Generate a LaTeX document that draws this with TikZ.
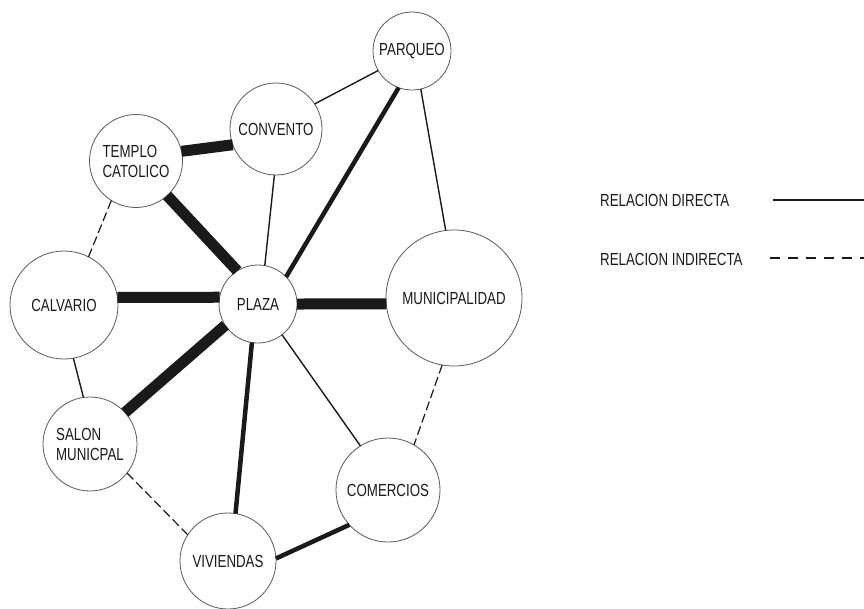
\documentclass[tikz,border=0pt]{standalone}
\usepackage{fontspec}
\setmainfont[FakeStretch=0.76]{Liberation Sans}
\definecolor{ink}{HTML}{1A1A1A}
\definecolor{rim}{HTML}{5A5A5A}
\tikzset{
  place/.style={circle, draw=rim, line width=0.8pt, fill=white, inner sep=0pt, outer sep=0pt, align=left, font=\fontsize{17.5}{20}\selectfont, text=ink},
  linkheavy/.style={draw=ink, line width=11pt},
  linkmid/.style={draw=ink, line width=4.5pt},
  linkthin/.style={draw=ink, line width=1.4pt},
  linkdash/.style={draw=ink, line width=1.2pt, dash pattern=on 9pt off 4pt},
  legend/.style={font=\fontsize{17.5}{20}\selectfont, text=ink, anchor=west, inner sep=0pt}
}
\begin{document}
\begin{tikzpicture}[x=1pt, y=-1pt]
\useasboundingbox (0,0) rectangle (864,608);
% places
\node[place, minimum size=78pt] (parqueo) at (412,51) {PARQUEO};
\node[place, minimum size=92pt] (convento) at (276,129) {CONVENTO};
\node[place, minimum size=93pt] (templo) at (136,161) {TEMPLO\\CATOLICO};
\node[place, minimum size=78pt] (plaza) at (258,304) {PLAZA};
\node[place, minimum size=108pt] (calvario) at (64,305) {CALVARIO};
\node[place, minimum size=136pt] (muni) at (454,298) {MUNICIPALIDAD};
\node[place, minimum size=94pt] (salon) at (90,444) {SALON\\MUNICPAL};
\node[place, minimum size=104pt] (comercios) at (388,490) {COMERCIOS};
\node[place, minimum size=96pt] (viviendas) at (228,561) {VIVIENDAS};
% relations
\draw[linkheavy] (templo.12) -- (convento.200);
\draw[linkheavy] (templo.312) -- (plaza.122);
\draw[linkheavy] (calvario.8) -- (plaza.170);
\draw[linkheavy] (plaza.0) -- (muni.185);
\draw[linkheavy] (plaza.213) -- (salon.42);
\draw[linkmid] (plaza.44) -- (parqueo.250);
\draw[linkmid] (plaza.261) -- (viviendas.81);
\draw[linkmid] (viviendas.3) -- (comercios.222);
\draw[linkthin] (convento.33) -- (parqueo.210);
\draw[linkthin] (convento.268) -- (plaza.80);
\draw[linkthin] (parqueo.283) -- (muni.97);
\draw[linkthin] (calvario.280) -- (salon.98);
\draw[linkthin] (plaza.308) -- (comercios.122);
\draw[linkdash] (templo.238) -- (calvario.63);
\draw[linkdash] (muni.260) -- (comercios.60);
\draw[linkdash] (salon.322) -- (viviendas.147);
% legend
\node[legend] (ldir) at (600,200) {RELACION DIRECTA};
\node[legend] (lind) at (600,259) {RELACION INDIRECTA};
\coordinate (ldirA) at (773,200);
\coordinate (ldirB) at (864,200);
\coordinate (lindA) at (770,258);
\coordinate (lindB) at (864,258);
\draw[draw=ink, line width=1.8pt] (ldirA) -- (ldirB);
\draw[linkdash, dash pattern=on 10pt off 8pt] (lindA) -- (lindB);
\end{tikzpicture}
\end{document}
